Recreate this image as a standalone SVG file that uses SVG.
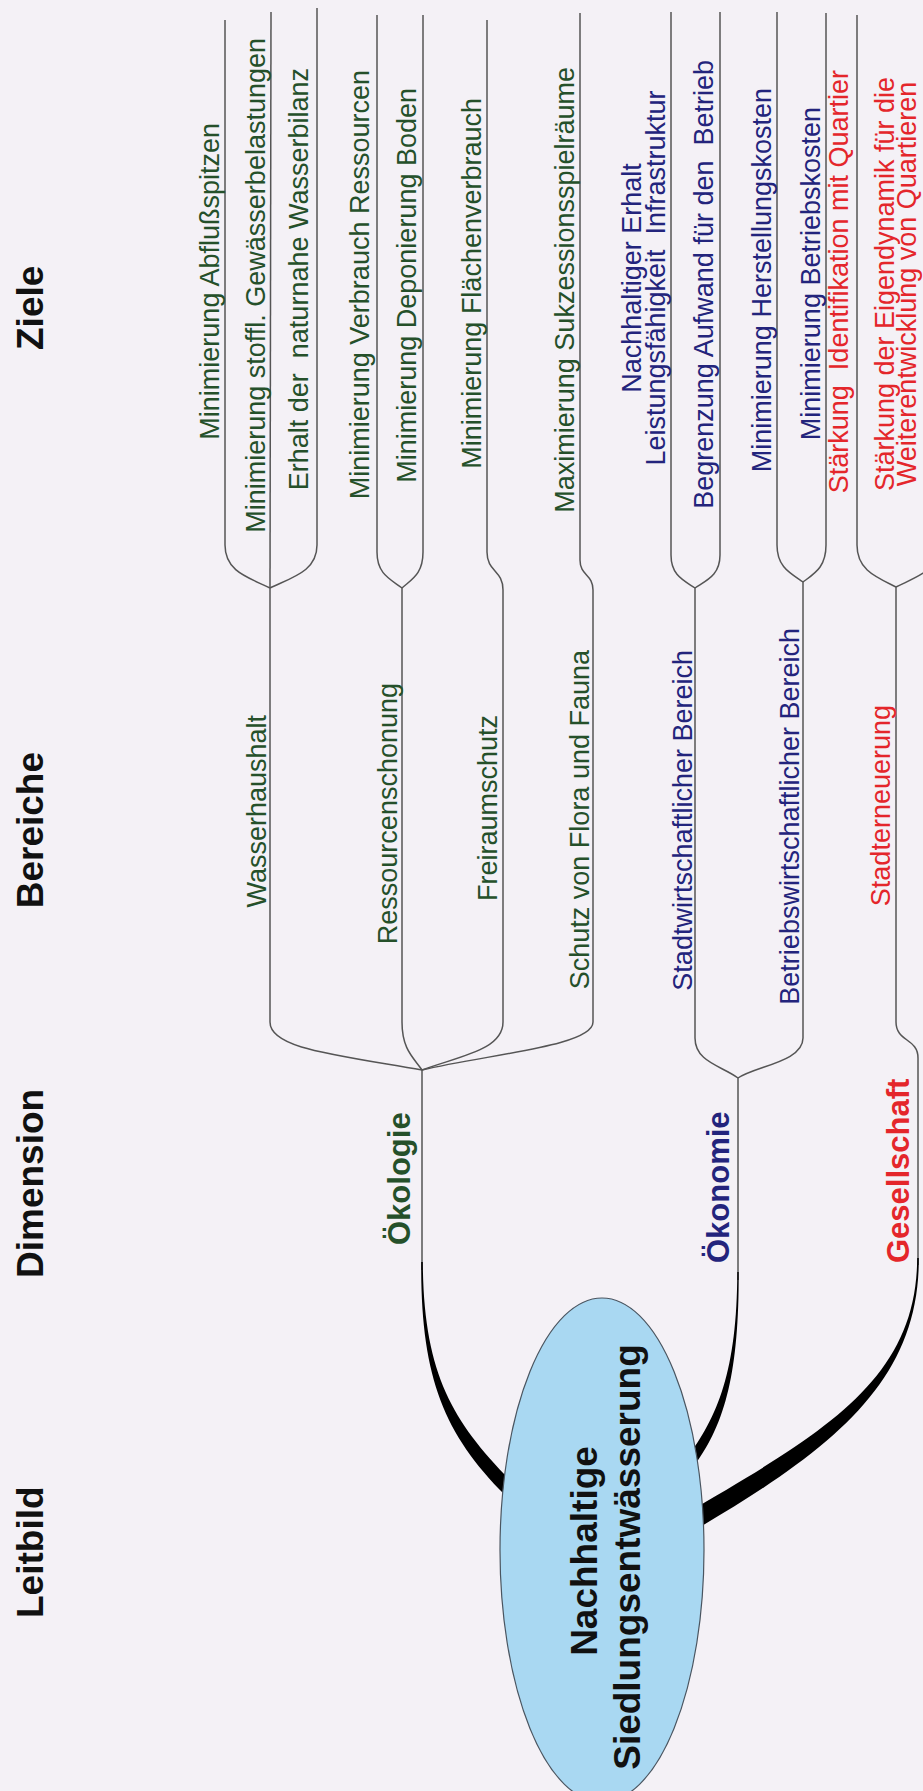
<svg xmlns="http://www.w3.org/2000/svg" width="923" height="1791" viewBox="0 0 923 1791">
<defs>
<style>
.h{font-family:"Liberation Sans",Arial,sans-serif;font-weight:bold;font-size:37px;fill:#111}
.t{font-family:"Liberation Sans",Arial,sans-serif;font-size:27px}
.d{font-family:"Liberation Sans",Arial,sans-serif;font-weight:bold;font-size:31px}
.g{fill:#25502a}
.b{fill:#23247c}
.r{fill:#e4262b}
.ln{fill:none;stroke:#555;stroke-width:1.5}
.thick{fill:#000;stroke:none}
</style>
</defs>
<rect width="923" height="1791" fill="#f4f1f6"/>

<g id="connectors">
<path class="ln" d="M225,20 L225,545 C225,571 247,577 270,588"/>
<path class="ln" d="M271,12 L270,588"/>
<path class="ln" d="M317,8 L317,545 C317,571 293,577 270,588"/>
<path class="ln" d="M377,15 L377,552 C377,574 390,579 402,588"/>
<path class="ln" d="M423,15 L423,552 C423,574 412,579 402,588"/>
<path class="ln" d="M487,20 L487,552 C487,572 503,570 503,590"/>
<path class="ln" d="M580,13 L580,560 C580,576 593,574 593,590"/>
<path class="ln" d="M671,12 L671,555 C671,575 683,580 695,588"/>
<path class="ln" d="M720,12 L720,555 C720,575 707,580 695,588"/>
<path class="ln" d="M777,12 L777,545 C777,567 790,573 803,582"/>
<path class="ln" d="M826,13 L826,545 C826,567 815,573 803,582"/>
<path class="ln" d="M857,15 L857,545 C857,570 876,577 896,587"/>
<path class="ln" d="M940,15 L940,545 C940,570 916,577 896,587"/>
<path class="ln" d="M270,588 L270,1022 C270,1048 330,1054 422,1070"/>
<path class="ln" d="M402,588 L402,1022 C402,1050 414,1058 422,1070"/>
<path class="ln" d="M503,590 L503,1022 C503,1050 460,1056 422,1070"/>
<path class="ln" d="M593,590 L593,1022 C593,1046 490,1054 422,1070"/>
<path class="ln" d="M422,1070 L422,1270"/>
<path class="ln" d="M695,588 L695,1038 C695,1062 722,1066 738,1078"/>
<path class="ln" d="M803,582 L803,1038 C803,1062 755,1066 738,1078"/>
<path class="ln" d="M738,1078 L738,1280"/>
<path class="ln" d="M896,587 L896,1022 C896,1042 918,1038 918,1058 L918,1265"/>
<path class="thick" d="M422.8,1262 C423.5,1375 453,1423 515,1485 L505,1495 C443,1433 420.5,1375 421.2,1262 Z"/>
<path class="thick" d="M738.7,1272 C739,1370 726,1423 694,1466 L686,1459 C718,1417 737,1370 737.3,1272 Z"/>
<path class="thick" d="M918.8,1258 C919.5,1380 835,1448 695,1530 L685,1514 C825,1432 916.5,1380 917.2,1258 Z"/>
</g>

<g id="headers">
<text class="h" transform="translate(43,350) rotate(-90)">Ziele</text>
<text class="h" transform="translate(43,752) rotate(-90)" text-anchor="end">Bereiche</text>
<text class="h" transform="translate(43,1278) rotate(-90)">Dimension</text>
<text class="h" transform="translate(43,1618) rotate(-90)">Leitbild</text>
</g>

<g id="leitbild">
<ellipse cx="602" cy="1550" rx="102" ry="252" fill="#a9d8f2" stroke="#4a5560" stroke-width="1.2"/>
<text class="h" transform="translate(597,1551) rotate(-90)" text-anchor="middle">Nachhaltige</text>
<text class="h" transform="translate(640,1557) rotate(-90)" text-anchor="middle">Siedlungsentwässerung</text>
</g>

<g id="oekologie">
<text class="d g" transform="translate(410,1245) rotate(-90)">Ökologie</text>
</g>
<g id="oekonomie">
<text class="d b" transform="translate(729,1263) rotate(-90)">Ökonomie</text>
</g>
<g id="gesellschaft">
<text class="d r" transform="translate(909,1263) rotate(-90)">Gesellschaft</text>
</g>

<g id="wasserhaushalt"><text class="t g" transform="translate(266,715) rotate(-90)" text-anchor="end">Wasserhaushalt</text></g>
<g id="ressourcenschonung"><text class="t g" transform="translate(397,683) rotate(-90)" text-anchor="end">Ressourcenschonung</text></g>
<g id="freiraumschutz"><text class="t g" transform="translate(497,715) rotate(-90)" text-anchor="end">Freiraumschutz</text></g>
<g id="schutz-flora-fauna"><text class="t g" transform="translate(589,650) rotate(-90)" text-anchor="end">Schutz von Flora und Fauna</text></g>
<g id="stadtwirtschaftlich"><text class="t b" transform="translate(692,650) rotate(-90)" text-anchor="end">Stadtwirtschaftlicher Bereich</text></g>
<g id="betriebswirtschaftlich"><text class="t b" transform="translate(799,628) rotate(-90)" text-anchor="end">Betriebswirtschaftlicher Bereich</text></g>
<g id="stadterneuerung"><text class="t r" transform="translate(890,705) rotate(-90)" text-anchor="end">Stadterneuerung</text></g>

<g id="ziel-abfluss"><text class="t g" transform="translate(219,123) rotate(-90)" text-anchor="end">Minimierung Abflußspitzen</text></g>
<g id="ziel-gewaesser"><text class="t g" transform="translate(265,38) rotate(-90)" text-anchor="end">Minimierung stoffl. Gewässerbelastungen</text></g>
<g id="ziel-wasserbilanz"><text class="t g" xml:space="preserve" transform="translate(308,68) rotate(-90)" text-anchor="end">Erhalt der  naturnahe Wasserbilanz</text></g>
<g id="ziel-ressourcen"><text class="t g" transform="translate(369,70) rotate(-90)" text-anchor="end">Minimierung Verbrauch Ressourcen</text></g>
<g id="ziel-boden"><text class="t g" transform="translate(416,88) rotate(-90)" text-anchor="end">Minimierung Deponierung Boden</text></g>
<g id="ziel-flaeche"><text class="t g" transform="translate(481,98) rotate(-90)" text-anchor="end">Minimierung Flächenverbrauch</text></g>
<g id="ziel-sukzession"><text class="t g" transform="translate(574,67) rotate(-90)" text-anchor="end">Maximierung Sukzessionsspielräume</text></g>
<g id="ziel-infrastruktur">
<text class="t b" transform="translate(641,278) rotate(-90)" text-anchor="middle">Nachhaltiger Erhalt</text>
<text class="t b" xml:space="preserve" transform="translate(665,278) rotate(-90)" text-anchor="middle">Leistungsfähigkeit  Infrastruktur</text>
</g>
<g id="ziel-aufwand"><text class="t b" xml:space="preserve" transform="translate(713,60) rotate(-90)" text-anchor="end">Begrenzung Aufwand für den  Betrieb</text></g>
<g id="ziel-herstellung"><text class="t b" transform="translate(771,88) rotate(-90)" text-anchor="end">Minimierung Herstellungskosten</text></g>
<g id="ziel-betrieb"><text class="t b" transform="translate(820,107) rotate(-90)" text-anchor="end">Minimierung Betriebskosten</text></g>
<g id="ziel-identifikation"><text class="t r" xml:space="preserve" transform="translate(848,70) rotate(-90)" text-anchor="end">Stärkung  Identifikation mit Quartier</text></g>
<g id="ziel-eigendynamik">
<text class="t r" transform="translate(894,284) rotate(-90)" text-anchor="middle">Stärkung der Eigendynamik für die</text>
<text class="t r" transform="translate(916,284) rotate(-90)" text-anchor="middle">Weiterentwicklung von Quartieren</text>
</g>
</svg>
